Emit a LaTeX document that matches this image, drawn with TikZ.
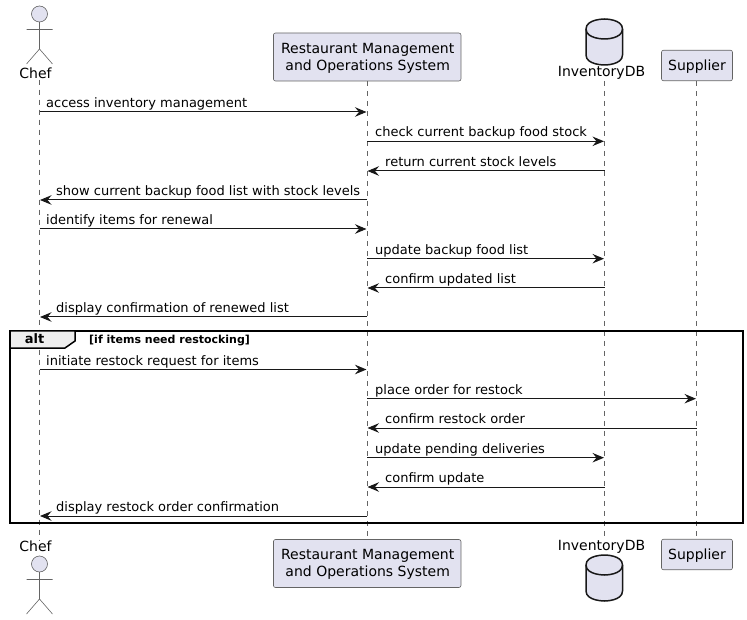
\documentclass[tikz,border=0pt]{standalone}
\usepackage{fontspec}
\setmainfont{DejaVu Sans}
\usetikzlibrary{arrows.meta}
\definecolor{partfill}{HTML}{E2E2F0}
\definecolor{partline}{HTML}{181818}
\definecolor{softline}{HTML}{646464}
\definecolor{tabfill}{HTML}{EEEEEE}
\tikzset{
  partbox/.style={draw=softline,fill=partfill,line width=0.6pt,rounded corners=2pt,align=center,inner sep=0pt,font=\fontsize{14}{17}\selectfont},
  partlabel/.style={inner sep=0pt,font=\fontsize{14}{16}\selectfont},
  lifeline/.style={draw=softline,line width=0.5pt,dash pattern=on 5pt off 5pt},
  msg/.style={draw=partline,line width=1pt,shorten >=0.5pt,-{Stealth[length=11.5pt,width=9.5pt,inset=4pt]}},
  msgtext/.style={inner sep=0pt,anchor=base west,font=\fontsize{13}{15}\selectfont},
  actorline/.style={draw=softline,line width=0.6pt},
  actorhead/.style={draw=softline,fill=partfill,line width=0.6pt},
  dbshape/.style={draw=partline,fill=partfill,line width=1.5pt},
  framebox/.style={draw=black,line width=1.5pt},
}
\newcommand{\dbcyl}[1]{%
  \draw[dbshape] (586,#1+10) .. controls (586,#1) and (604.5,#1) .. (604.5,#1)
    .. controls (604.5,#1) and (622.5,#1) .. (622.5,#1+10) -- (622.5,#1+36)
    .. controls (622.5,#1+46) and (604.5,#1+46) .. (604.5,#1+46)
    .. controls (604.5,#1+46) and (586,#1+46) .. (586,#1+36) -- cycle;
  \draw[dbshape,fill=none] (586,#1+10) .. controls (586,#1+20) and (604.5,#1+20) .. (604.5,#1+20)
    .. controls (604.5,#1+20) and (622.5,#1+20) .. (622.5,#1+10);
}
\newcommand{\actorfig}[1]{%
  \draw[actorhead] (39.5,#1) circle (8);
  \draw[actorline] (39.5,#1+8) -- (39.5,#1+35) (26.5,#1+15.5) -- (52.5,#1+15.5)
    (26.5,#1+50) -- (39.5,#1+35) -- (52.5,#1+50);
}
% \msgline{name}{from}{to}{y}{text x}{text}
\newcommand{\msgline}[6]{%
  \draw[msg] (#2 |- 0,#4) -- (#3 |- 0,#4);
  \node[msgtext] (#1) at (#5,#4-4.4) {#6};
}
\begin{document}
\begin{tikzpicture}[x=1pt,y=-1pt]
\useasboundingbox (0,0) rectangle (747,620);
\coordinate (lc) at (39.5,0);
\coordinate (lr) at (367,0);
\coordinate (li) at (604.5,0);
\coordinate (ls) at (696.5,0);
% participants, top
\node[partlabel] (chefT) at (35.5,73) {Chef};
\node[partbox,minimum width=187.5pt,minimum height=48pt,text height=29.6pt] (rmsT) at (367.2,57) {\hspace{1pt}Restaurant Management\\\hspace{1pt}and Operations System};
\node[partlabel] (invT) at (601.5,73) {InventoryDB};
\node[partbox,minimum width=71pt,minimum height=30.5pt,text height=12pt] (supT) at (697,65.5) {Supplier};
% participants, bottom
\node[partlabel] (chefB) at (35.5,546.5) {Chef};
\node[partbox,minimum width=187.5pt,minimum height=48pt,text height=29.6pt] (rmsB) at (367.2,563.5) {\hspace{1pt}Restaurant Management\\\hspace{1pt}and Operations System};
\node[partlabel] (invB) at (601.5,546.5) {InventoryDB};
\node[partbox,minimum width=71pt,minimum height=30.5pt,text height=12pt] (supB) at (697,554.5) {Supplier};
% lifelines
\draw[lifeline] (lc |- chefT.south) ++(0,1) -- (lc |- chefB.north);
\draw[lifeline] (lr |- rmsT.south) -- (lr |- rmsB.north);
\draw[lifeline] (li |- invT.south) ++(0,1) -- (li |- invB.north);
\draw[lifeline] (ls |- supT.south) -- (ls |- supB.north);
% actors and databases
\actorfig{14}
\actorfig{564}
\dbcyl{19}
\dbcyl{555}
% frame
\draw[framebox] (10,331) rectangle (743,523);
\draw[framebox,fill=tabfill] (10,331) -- (75,331) -- (75,341) -- (65,348) -- (10,348) -- cycle;
\node[inner sep=0pt,font=\fontsize{13}{15}\selectfont\bfseries] (altL) at (34.5,339) {alt};
\node[inner sep=0pt,anchor=base west,font=\fontsize{11}{13}\selectfont\bfseries] (altC) at (89,344) {[if items need restocking]};
% messages
\msgline{m1}{lc}{lr}{112}{46}{access inventory management}
\msgline{m2}{lr}{li}{141.3}{375}{check current backup food stock}
\msgline{m3}{li}{lr}{171}{385}{return current stock levels}
\msgline{m4}{lr}{lc}{200}{56}{show current backup food list with stock levels}
\msgline{m5}{lc}{lr}{229}{46}{identify items for renewal}
\msgline{m6}{lr}{li}{258.7}{375}{update backup food list}
\msgline{m7}{li}{lr}{288}{385}{confirm updated list}
\msgline{m8}{lr}{lc}{317}{56}{display confirmation of renewed list}
\msgline{m9}{lc}{lr}{369.5}{46}{initiate restock request for items}
\msgline{m10}{lr}{ls}{398.7}{375}{place order for restock}
\msgline{m11}{ls}{lr}{428}{385}{confirm restock order}
\msgline{m12}{lr}{li}{457.7}{375}{update pending deliveries}
\msgline{m13}{li}{lr}{487}{385}{confirm update}
\msgline{m14}{lr}{lc}{516}{56}{display restock order confirmation}
\end{tikzpicture}
\end{document}
